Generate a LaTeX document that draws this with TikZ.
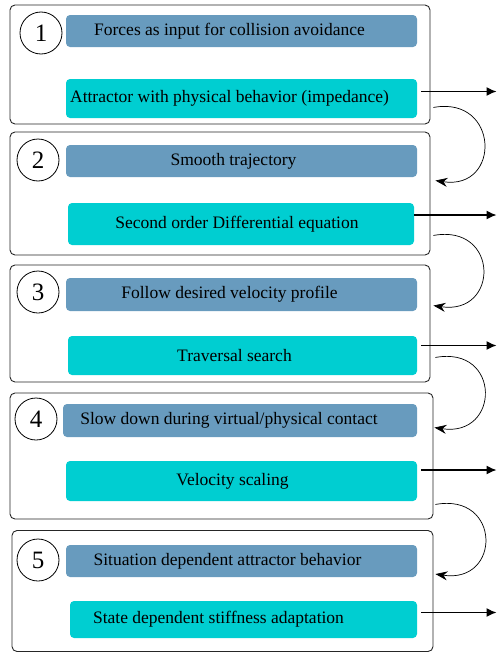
\documentclass[tikz,border=0pt]{standalone}
\usepackage{fontspec}
\setmainfont{Liberation Serif}
\usetikzlibrary{arrows.meta,calc}
\definecolor{acel}{RGB}{104,155,190}
\definecolor{amod}{RGB}{0,206,209}
\tikzset{
  keret/.style={draw=black!85,line width=0.9pt,rounded corners=5pt,inner sep=0pt},
  cel/.style={fill=acel,rounded corners=4pt,inner sep=0pt,font=\fontsize{17.5}{20}\selectfont},
  mod/.style={fill=amod,rounded corners=4pt,inner sep=0pt,font=\fontsize{17.5}{20}\selectfont},
  szam/.style={circle,draw,line width=0.8pt,minimum size=42pt,inner sep=0pt,font=\fontsize{25}{28}\selectfont},
  nyil/.style={line width=1.3pt,-{Latex[length=10pt,width=9pt]}},
  iv/.style={line width=0.7pt,-{Stealth[length=12pt,width=9pt,inset=4pt]}},
}

\begin{document}
\begin{tikzpicture}[x=1pt,y=-1pt]
  \useasboundingbox (0,0) rectangle (497,653);
  \coordinate (ki) at (496.5,0);
  % 1
  \node[keret,minimum width=420pt,minimum height=119pt] (k1) at (220,64.5) {};
  \node[szam] (s1) at (41,33) {1};
  \node[cel,minimum width=351pt,minimum height=32pt] (c1) at (241.5,31) {\hspace*{-24pt}Forces as input for collision avoidance};
  \node[mod,minimum width=351pt,minimum height=39pt] (m1) at (241.5,98.5) {\hspace*{-24pt}Attractor with physical behavior (impedance)};
  % 2
  \node[keret,minimum width=420pt,minimum height=123pt] (k2) at (220,193.5) {};
  \node[szam] (s2) at (38,160) {2};
  \node[cel,minimum width=351pt,minimum height=32pt] (c2) at (241.5,161) {\hspace*{-16pt}Smooth trajectory};
  \node[mod,minimum width=346pt,minimum height=42pt] (m2) at (241,224) {\hspace*{-8pt}Second order Differential equation};
  % 3
  \node[keret,minimum width=420pt,minimum height=117pt] (k3) at (220,323.5) {};
  \node[szam] (s3) at (38,292) {3};
  \node[cel,minimum width=351pt,minimum height=33pt] (c3) at (241.5,294.5) {\hspace*{-24pt}Follow desired velocity profile};
  \node[mod,minimum width=349pt,minimum height=39pt] (m3) at (242.5,355.5) {\hspace*{-16pt}Traversal search};
  % 4
  \node[keret,minimum width=423pt,minimum height=126pt] (k4) at (221.5,456) {};
  \node[szam] (s4) at (36,419) {4};
  \node[cel,minimum width=354pt,minimum height=33pt] (c4) at (240,420.5) {\hspace*{-22pt}Slow down during virtual/physical contact};
  \node[mod,minimum width=351pt,minimum height=40pt] (m4) at (241.5,481) {\hspace*{-18pt}Velocity scaling};
  % 5
  \node[keret,minimum width=421pt,minimum height=121pt] (k5) at (222.5,591) {};
  \node[szam] (s5) at (38,560) {5};
  \node[cel,minimum width=351pt,minimum height=32pt] (c5) at (241.5,561) {\hspace*{-28pt}Situation dependent attractor behavior};
  \node[mod,minimum width=347pt,minimum height=37pt] (m5) at (243.5,619.5) {\hspace*{-50pt}State dependent stiffness adaptation};
  % kimenetek
  \draw[nyil] ([shift={(4,-7)}]m1.east) coordinate (n1) -- (n1 -| ki);
  \draw[nyil] ([shift={(0,-9)}]m2.east) coordinate (n2) -- (n2 -| ki);
  \draw[nyil] ([shift={(4,-10)}]m3.east) coordinate (n3) -- (n3 -| ki);
  \draw[nyil] ([shift={(4,-11)}]m4.east) coordinate (n4) -- (n4 -| ki);
  \draw[nyil] ([shift={(4,-7)}]m5.east) coordinate (n5) -- (n5 -| ki);
  % atmenetek
  \draw[iv] ([shift={(3,-17)}]k1.south east) .. controls +(66,-12) and +(66,10) .. ([shift={(5,49)}]k2.north east);
  \draw[iv] ([shift={(3,-20)}]k2.south east) .. controls +(66,-12) and +(66,10) .. ([shift={(3,41)}]k3.north east);
  \draw[iv] ([shift={(5,-25)}]k3.south east) .. controls +(66,-12) and +(66,10) .. ([shift={(1,35)}]k4.north east);
  \draw[iv] ([shift={(2,-15)}]k4.south east) .. controls +(66,-12) and +(66,10) .. ([shift={(2,44)}]k5.north east);
\end{tikzpicture}
\end{document}
